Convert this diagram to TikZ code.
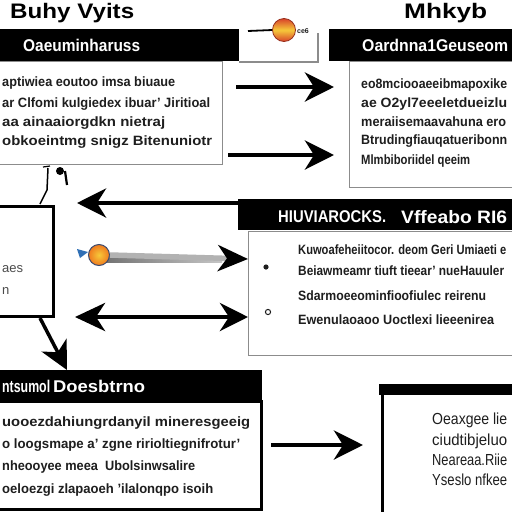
\documentclass[tikz,border=0pt]{standalone}
\usepackage{fontspec}
\usepackage{graphicx}
\usetikzlibrary{arrows.meta}
\setmainfont{Liberation Sans}
\newcommand\fitw[2]{\resizebox{#1pt}{\height}{#2}}
\definecolor{boxgray}{HTML}{8C8C8C}
\definecolor{ink}{HTML}{1E1E1E}
\definecolor{dotred}{HTML}{D8432A}
\definecolor{dotyel}{HTML}{F6C93A}
\definecolor{dotorg}{HTML}{EF7A1E}
\definecolor{dotrim}{HTML}{3B4A6E}
\definecolor{flagblue}{HTML}{2F6FB5}
\begin{document}
\begin{tikzpicture}[x=1pt,y=-1pt,
  barst/.style={fill=black, draw=none, inner sep=0, anchor=north west},
  boxst/.style={draw=boxgray, line width=1.2pt, inner sep=0, anchor=north west},
  boldbox/.style={draw=black, line width=3pt, inner sep=0, anchor=north west},
  body/.style={anchor=base west, inner sep=0, text=ink, font=\bfseries\fontsize{13.5}{15}\selectfont},
  hdtext/.style={anchor=base west, inner sep=0, text=white, font=\bfseries\fontsize{17}{18}\selectfont},
  ttl/.style={anchor=base west, inner sep=0, text=black, font=\bfseries\fontsize{21}{22}\selectfont},
  bigarr/.style={draw=black, line width=4.5pt, -{Stealth[length=29pt, width=29pt, inset=9pt]}},
  dblarr/.style={draw=black, line width=4.5pt, {Stealth[length=30pt, width=28pt, inset=9pt]}-{Stealth[length=28pt, width=28pt, inset=9pt]}}
]
\useasboundingbox (0,0) rectangle (512,512);
\fill[white] (0,0) rectangle (512,512);

% titles
\node[ttl] (title1) at (10,18) {\fitw{124}{Buhy Vyits}};
\node[ttl] (title2) at (404,18) {\fitw{83}{Mhkyb}};

% top-left block
\node[boxst, minimum width=228pt, minimum height=103pt] (tlbox) at (-6,61) {};
\node[barst, minimum width=245pt, minimum height=32pt] (tlhead) at (-6,29) {};
\node[hdtext] (tlht) at (23,51) {\fitw{117}{Oaeuminharuss}};
\node[body] (tl1) at (2,86) {\fitw{173}{aptiwiea eoutoo imsa biuaue}};
\node[body] (tl2) at (2,107) {\fitw{208}{ar Clfomi kulgiedex ibuar' Jiritioal}};
\node[body] (tl3) at (2,126) {\fitw{163}{aa ainaaiorgdkn nietraj}};
\node[body] (tl4) at (2,145) {\fitw{210}{obkoeintmg snigz Bitenuniotr}};

% small top-middle frame with dot
\draw[boxgray, line width=1.2pt] (239,62) -- (318,62) -- (318,33);
\node[circle, minimum size=23pt, inner sep=0, draw=dotred!70!black, line width=0.8pt,
      top color=dotred, bottom color=dotred, middle color=dotyel] (dot1) at (284,30) {};
\coordinate (fr1) at (248,31);
\draw[black, line width=1.8pt] (fr1) -- (dot1.west);
\node[anchor=west, inner sep=0, font=\bfseries\fontsize{7}{8}\selectfont, text=ink] (dot1t) at (297,31) {ce6};

% top-right block
\node[boxst, minimum width=175pt, minimum height=126pt] (trbox) at (349,61) {};
\node[barst, minimum width=190pt, minimum height=32pt] (trhead) at (329,29) {};
\node[hdtext] (trht) at (362,51) {\fitw{146}{Oardnna1Geuseom}};
\node[body] (tr1) at (361,88) {\fitw{146}{eo8mciooaeeibmapoxike}};
\node[body] (tr2) at (361,107) {\fitw{146}{ae O2yl7eeeletdueizlu}};
\node[body] (tr3) at (361,126) {\fitw{145}{meraiisemaavahuna ero}};
\node[body] (tr4) at (361,144) {\fitw{146}{Btrudingfiauqatueribonn}};
\node[body] (tr5) at (361,164) {\fitw{109}{Mlmbiboriidel qeeim}};

% arrows top
\coordinate (a1s) at (236,87);
\coordinate (a1e) at (334,87);
\coordinate (a2s) at (228,155);
\coordinate (a2e) at (334,155);
\draw[bigarr] (a1s) -- (a1e);
\draw[bigarr] (a2s) -- (a2e);

% left box and marks
\node[boldbox, minimum width=60pt, minimum height=110pt] (lbox) at (-8,205) {};
\node[anchor=base west, inner sep=0, text=ink!80, font=\fontsize{13}{15}\selectfont] (lb1) at (2,272) {aes};
\node[anchor=base west, inner sep=0, text=ink!80, font=\fontsize{13}{15}\selectfont] (lb2) at (2,294) {n};
\draw[line width=1.5pt] (40,204) -- (47,190) -- (48,168);
\draw[line width=1.2pt] (43,167) -- (50,166);
\fill (60,171) circle (4);
\draw[line width=2.2pt] (65,171) -- (67,185);

% middle-right block
\coordinate (a3e) at (77,203);
\coordinate (a3s) at (242,203);
\draw[bigarr] (a3s) -- (a3e);
\node[boxst, minimum width=272pt, minimum height=124pt] (mbox) at (248,231) {};
\node[barst, minimum width=280pt, minimum height=31pt] (mhead) at (238,199) {};
\node[hdtext, font=\bfseries\fontsize{17}{18}\selectfont] (mht1) at (278,222) {\fitw{108}{HIUVIAROCKS.}};
\node[hdtext, font=\bfseries\fontsize{18}{18}\selectfont] (mht2) at (401,223) {\fitw{106}{Vffeabo RI6}};
\fill[ink] (266,267) circle (2.6);
\draw[ink, line width=1pt] (268,312) circle (2.6);
\node[body] (m1) at (298,254) {\fitw{208}{Kuwoafeheiitocor. deom Geri Umiaeti e}};
\node[body] (m2) at (298,275) {\fitw{206}{Beiawmeamr tiuft tieear' nueHauuler}};
\node[body] (m3) at (298,300) {\fitw{188}{Sdarmoeeominfioofiulec reirenu}};
\node[body] (m4) at (298,324) {\fitw{196}{Ewenulaoaoo Uoctlexi lieeenirea}};

% dot arrow
\fill[flagblue] (77,249) -- (88,252) -- (80,258) -- cycle;
\coordinate (a4e) at (248,259);
\shade[left color=gray!90!black, right color=gray!45] (105,256) rectangle (222,262);
\node[circle, minimum size=21pt, inner sep=0, draw=dotrim, line width=1pt,
      inner color=dotyel, outer color=dotorg] (dot2) at (99,255) {};
\draw[draw=gray!60, line width=5.5pt, -{Stealth[length=30pt, width=26pt, inset=9pt, color=black]}] (dot2.east) -- (a4e);

% double arrow
\coordinate (a5l) at (75,317);
\coordinate (a5r) at (248,317);
\draw[dblarr] (a5l) -- (a5r);

% arrow out of left box
\coordinate (a6e) at (67,370);
\draw[draw=black, line width=3.5pt, -{Stealth[length=28pt, width=28pt, inset=8pt]}] (lbox.south -| 40,0) -- (a6e);

% bottom-left block
\node[draw=black, line width=2.5pt, inner sep=0, anchor=north west, minimum width=266pt, minimum height=108pt] (blbox) at (-6,400) {};
\node[barst, minimum width=268pt, minimum height=31pt] (blhead) at (-6,370) {};
\node[hdtext] (blht1) at (2,392) {\fitw{48}{ntsumol}};
\node[hdtext] (blht2) at (53,392) {\fitw{92}{Doesbtrno}};
\node[body] (bl1) at (2,426) {\fitw{248}{uooezdahiungrdanyil mineresgeeig}};
\node[body] (bl2) at (2,448) {\fitw{238}{o loogsmape a' zgne ririoltiegnifrotur'}};
\node[body] (bl3) at (2,470) {\fitw{193}{nheooyee meea \ Ubolsinwsalire}};
\node[body] (bl4) at (2,493) {\fitw{211}{oeloezgi zlapaoeh 'ilalonqpo isoih}};

% bottom arrow
\coordinate (a7s) at (271,445);
\coordinate (a7e) at (363,445);
\draw[bigarr] (a7s) -- (a7e);

% bottom-right block
\node[boldbox, minimum width=142pt, minimum height=132pt] (brbox) at (381,387) {};
\fill[black] (379,384) rectangle (520,395);
\node[anchor=base west, inner sep=0, text=ink, font=\fontsize{16}{18}\selectfont] (br1) at (432,424) {\fitw{75}{Oeaxgee lie}};
\node[anchor=base west, inner sep=0, text=ink, font=\fontsize{16}{18}\selectfont] (br2) at (432,445) {\fitw{75}{ciudtibjeluo}};
\node[anchor=base west, inner sep=0, text=ink, font=\fontsize{16}{18}\selectfont] (br3) at (432,465) {\fitw{75}{Neareaa.Riie}};
\node[anchor=base west, inner sep=0, text=ink, font=\fontsize{16}{18}\selectfont] (br4) at (432,485) {\fitw{75}{Yseslo nfkee}};
\end{tikzpicture}
\end{document}
